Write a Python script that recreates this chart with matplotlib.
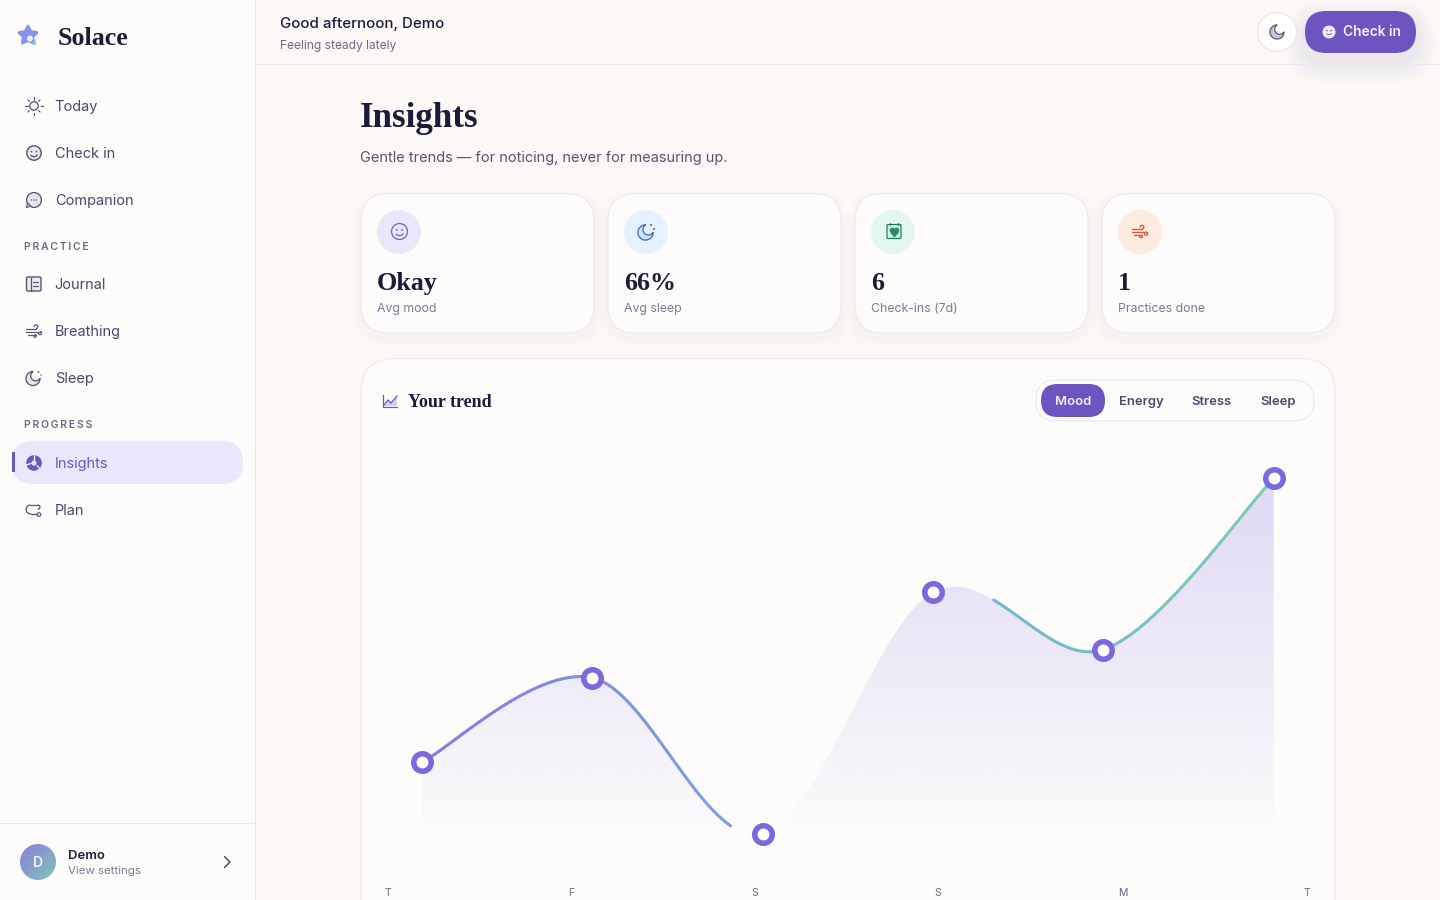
"""Solace insights screen: mood trend card with the app chrome around it."""
import numpy as np
import matplotlib

matplotlib.use("Agg")
import matplotlib.pyplot as plt
from matplotlib.bezier import BezierSegment
from matplotlib.collections import LineCollection
from matplotlib.colors import LinearSegmentedColormap, to_rgb
from matplotlib.patches import Circle, FancyBboxPatch, PathPatch, Polygon, Rectangle
from matplotlib.path import Path

# chart data
days = ["T", "F", "S", "S", "M", "T"]
mood = [0.98, 1.88, 0.22, 2.79, 2.18, 4.0]
day_index = [0, 1, 2, 3, 4, 5]

# screen text
nav_top = ["Today", "Check in", "Companion"]
nav_practice = ["Journal", "Breathing", "Sleep"]
nav_progress = ["Insights", "Plan"]
stat_values = ["Okay", "66%", "6", "1"]
stat_labels = ["Avg mood", "Avg sleep", "Check-ins (7d)", "Practices done"]
tabs = ["Mood", "Energy", "Stress", "Sleep"]

INK = "#1b1b3a"
BODY = "#4a4a68"
MUTED = "#7a7a92"
PURPLE = "#6b55c0"
MARKER = "#7c68de"
BORDER = "#e7e4f0"
CARD = "#fefcfb"
PAGE = "#fbf8f5"
SIDE = "#fdfcfa"
LILAC = "#ebe6fb"
SERIF = "Liberation Serif"

fig = plt.figure(figsize=(14.4, 9), dpi=100, facecolor=PAGE)
ui = fig.add_axes([0, 0, 1, 1])
ui.set_xlim(0, 1440)
ui.set_ylim(900, 0)
ui.axis("off")


def px(v):
    return v * 0.72


def label(x, y, s, size, color=BODY, weight="normal", family="Inter", ha="left", ax=None):
    (ax or ui).text(x, y, s, fontsize=px(size), color=color, fontweight=weight,
                    family=family, ha=ha, va="baseline", zorder=6)


def box(x0, y0, x1, y1, r, fc, ec="none", lw=1.0, alpha=None, z=2):
    p = FancyBboxPatch((x0, y0), x1 - x0, y1 - y0, boxstyle=f"round,pad=0,rounding_size={r}",
                       fc=fc, ec=ec, lw=px(lw), alpha=alpha, zorder=z)
    ui.add_patch(p)
    return p


def shadow(x0, y0, x1, y1, r, color="#6b55c0", dy=6, steps=6, spread=12, alpha=0.006):
    for i in range(steps):
        g = spread * (i + 1) / steps
        box(x0 - g, y0 - g + dy, x1 + g, y1 + g + dy, r + g, color, alpha=alpha, z=1.5)


def circle(x, y, r, fc="none", ec="none", lw=1.5, z=5):
    ui.add_patch(Circle((x, y), r, fc=fc, ec=ec, lw=px(lw), zorder=z))


def stroke(xs, ys, color, lw=1.5, z=5):
    ui.plot(xs, ys, color=color, lw=px(lw), solid_capstyle="round", zorder=z)


def smile(x, y, r, color, lw=1.4, fill="none"):
    circle(x, y, r, fc=fill, ec=color, lw=lw)
    k = r / 7
    circle(x - 2.4 * k, y - 1.4 * k, 0.8 * k, fc=color)
    circle(x + 2.4 * k, y - 1.4 * k, 0.8 * k, fc=color)
    t = np.radians(np.arange(25, 160, 15))
    stroke(x + 3.6 * k * np.cos(t), y + 0.6 * k + 3 * k * np.sin(t), color, lw)


def moon(x, y, r, color, fill="none", lw=1.4):
    # crescent: outer circle with a smaller one bitten out towards the upper right
    ri = r * 0.72
    d = r * 0.55
    phi = np.radians(-45)
    cx, cy = x + d * np.cos(phi), y + d * np.sin(phi)
    delta = np.arccos((d**2 + r**2 - ri**2) / (2 * d * r))
    beta = np.arctan2(r * np.sin(delta), r * np.cos(delta) - d)
    a = np.linspace(phi + delta, phi + 2 * np.pi - delta, 40)
    b = np.linspace(phi - beta, phi + beta - 2 * np.pi, 30)
    outer = np.c_[x + r * np.cos(a), y + r * np.sin(a)]
    inner = np.c_[cx + ri * np.cos(b), cy + ri * np.sin(b)]
    ui.add_patch(Polygon(np.vstack([outer, inner]), closed=True, fc=fill, ec=color, lw=px(lw),
                         joinstyle="round", zorder=5))


def wind(x, y, color, lw=1.4):
    stroke([x - 8, x + 2], [y - 2.5, y - 2.5], color, lw)
    stroke([x - 8, x + 6], [y + 0.5, y + 0.5], color, lw)
    stroke([x - 6, x + 1], [y + 3.5, y + 3.5], color, lw)
    t = np.radians(np.arange(-180, 100, 20))
    stroke(x + 2 + 1.8 * np.cos(t), y - 4.3 + 1.8 * np.sin(t), color, lw)
    stroke(x + 6 + 1.6 * np.cos(-t), y + 2.1 + 1.6 * np.sin(-t), color, lw)
    stroke(x + 1 + 1.4 * np.cos(-t), y + 4.9 + 1.4 * np.sin(-t), color, lw)


def gradient_fill(ax, extent, colors, clip, diagonal=False):
    n = 128
    if diagonal:
        gx, gy = np.meshgrid(np.linspace(0, 1, n), np.linspace(0, 1, n))
        t = (gx + gy) / 2
    else:
        t = np.linspace(0, 1, n)[:, None]
    cmap = LinearSegmentedColormap.from_list("g", colors)
    im = ax.imshow(t, extent=extent, cmap=cmap, vmin=0, vmax=1, aspect="auto",
                   origin="upper", interpolation="bilinear", zorder=3)
    im.set_clip_path(clip)
    return im


# sidebar and header
ui.add_patch(Rectangle((0, 0), 255, 900, fc=SIDE, ec="none", zorder=1))
stroke([254.9, 254.9], [0, 900], "#eae7f0", 1, z=2)
stroke([0, 255], [822.9, 822.9], "#eae7f0", 1, z=2)
stroke([255, 1440], [63.9, 63.9], "#e9e6ef", 1, z=2)

# logo
ang = np.radians(np.arange(-90, 270, 36))
rad = np.tile([9.5, 5.0], 5)
star = np.c_[28 + rad * np.cos(ang), 35.5 + rad * np.sin(ang)]
ui.add_patch(Polygon(star, closed=True, fc="#8593ea", ec="#8593ea", lw=2, joinstyle="round", zorder=4))
circle(30, 38.5, 3, fc="#e9f0fb")
ui.add_patch(Polygon([(31, 44), (35.5, 39.5), (36, 45)], closed=True, fc="#86bfe6", ec="none", zorder=5))
label(58, 45, "Solace", 26, INK, "bold", SERIF)

# navigation
icon_c = "#55556f"
nav_y = [111, 158, 205]
for name, y in zip(nav_top, nav_y):
    label(54.7, y, name, 14.5, BODY)
nav_y2 = [289, 336, 383]
for name, y in zip(nav_practice, nav_y2):
    label(54.7, y, name, 14.5, BODY)
label(24, 250, "\u200a\u200a".join("PRACTICE"), 10.5, "#6c6c84", "semibold")
label(24, 428, "\u200a\u200a".join("PROGRESS"), 10.5, "#6c6c84", "semibold")

# today, check in, companion icons
circle(34, 106, 4.2, ec=icon_c, lw=1.3)
for a in np.radians(np.arange(0, 360, 45)):
    stroke([34 + 6.5 * np.cos(a), 34 + 8.6 * np.cos(a)], [106 + 6.5 * np.sin(a), 106 + 8.6 * np.sin(a)], icon_c, 1.2)
smile(34, 153, 7.2, icon_c, fill="#e6e5ec")
circle(34, 200, 7.4, fc="#e6e5ec", ec=icon_c, lw=1.3)
ui.add_patch(Polygon([(26.5, 207.5), (31, 206), (27.5, 203)], closed=True, fc="#e6e5ec", ec=icon_c, lw=px(1.2), zorder=5))
for dx in (-2.6, 0, 2.6):
    circle(34 + dx, 200, 0.7, fc=icon_c)

# journal, breathing, sleep icons
box(26.5, 277, 41, 291, 1.5, "#ecebf1", icon_c, 1.4, z=5)
stroke([30.5, 30.5], [278, 290.5], icon_c, 1.3)
stroke([33, 38], [282, 282], icon_c, 1.2)
stroke([33, 38], [285.5, 285.5], icon_c, 1.2)
wind(34, 331, icon_c, 1.2)
moon(33, 378.5, 7, icon_c, "#e6e5ec", 1.3)
circle(38.5, 372, 0.9, fc=icon_c)
circle(41, 375, 0.7, fc=icon_c)

# active item
box(12, 441, 243, 484, 21.5, LILAC, z=2)
ui.add_patch(Rectangle((12, 452), 3, 20, fc=PURPLE, ec="none", zorder=3))
circle(34, 463, 7.8, fc=PURPLE)
stroke([34, 34], [455, 460], LILAC, 1.4)
stroke([26, 31], [465, 463.5], LILAC, 1.4)
stroke([37, 41], [465.5, 470], LILAC, 1.4)
circle(34, 463, 2.6, fc=LILAC)
label(54.7, 468, nav_progress[0], 14.5, PURPLE)
label(54.7, 515, nav_progress[1], 14.5, BODY)
t = np.radians(np.arange(90, 271, 20))
stroke(30.5 + 4.4 * np.cos(t), 509.5 + 4.4 * np.sin(t), icon_c, 1.3)
stroke([30.5, 38], [505.1, 505.1], icon_c, 1.3)
stroke([30.5, 36.5], [513.9, 513.9], icon_c, 1.3)
t = np.radians(np.arange(-90, 91, 30))
stroke(38 + 2 * np.cos(t), 507.1 + 2 * np.sin(t), icon_c, 1.3)
circle(39, 514.5, 1.8, ec=icon_c, lw=1.2)

# user row
avatar = Circle((38, 862), 18, transform=ui.transData, fc="none", ec="none", zorder=4)
ui.add_patch(avatar)
gradient_fill(ui, (20, 56, 880, 844), ["#8d7ddb", "#7cc6b8"], avatar, diagonal=True)
ui.set_xlim(0, 1440)
ui.set_ylim(900, 0)
label(38, 867, "D", 14, "#f4f3fb", "semibold", ha="center")
label(68, 859, "Demo", 13, INK, "semibold")
label(68, 874, "View settings", 11.5, MUTED)
ui.plot([224.5, 230, 224.5], [856.5, 862, 867.5], color=BODY, lw=px(1.5), solid_capstyle="round", zorder=5)

# header
label(280, 28, "Good afternoon, Demo", 15, INK, "medium")
label(280, 49, "Feeling steady lately", 12, "#6c6c84")
circle(1277, 32, 19.5, fc="#fefdfc", ec=BORDER, lw=1, z=3)
moon(1277, 32, 7, "#55556f", "#c9c8d6", 1.2)
shadow(1305, 11, 1416, 53, 21, dy=10, steps=8, spread=20, alpha=0.008)
box(1305, 11, 1416, 53, 21, PURPLE, z=3)
smile(1329, 32, 6, "#f1eefb", 1, fill="#f1eefb")
circle(1327, 30.6, 0.8, fc=PURPLE)
circle(1331, 30.6, 0.8, fc=PURPLE)
t = np.radians(np.arange(25, 160, 15))
stroke(1329 + 2.6 * np.cos(t), 32.5 + 2.2 * np.sin(t), PURPLE, 0.9)
label(1343, 36, "Check in", 13.8, "#f3f0fc", "semibold")

# page heading
label(360, 127, "Insights", 35, INK, "bold", SERIF)
label(360, 162, "Gentle trends \u2014 for noticing, never for measuring up.", 14.5, "#55556f")

# stat cards
card_x = [361, 608, 855, 1102]
icon_bg = [LILAC, "#e6f1fd", "#e3f6ef", "#fdeae1"]
for x, value, name, bg in zip(card_x, stat_values, stat_labels, icon_bg):
    shadow(x, 194, x + 233, 333, 28, dy=5, steps=5, spread=10, alpha=0.003)
    box(x, 193.5, x + 233, 333, 28, CARD, BORDER, 0.8, z=2)
    circle(x + 38, 232, 22, fc=bg, z=3)
    label(x + 16, 290, value, 26, INK, "bold", SERIF)
    label(x + 16, 312, name, 12.3, MUTED)
smile(399.5, 231.5, 8, "#7a62cf", 1.3)
moon(645.5, 232.5, 7.6, "#3f6db0", "#cfe2f8", 1.3)
circle(651, 225, 1, fc="#3f6db0")
circle(654, 229, 1, fc="#3f6db0")
box(887, 224.5, 901, 238.5, 1, "#d3efe4", "#1f7a5c", 1.2, z=5)
stroke([890, 890], [222.5, 225], "#1f7a5c", 1.1)
stroke([898, 898], [222.5, 225], "#1f7a5c", 1.1)
ui.plot(894, 232, marker="$\u2665$", ms=6, color="#2b8a6b", zorder=6)
wind(1140, 231.5, "#d0603c", 1.4)

# trend card, runs off the bottom of the screen
box(361, 358.5, 1335, 960, 34, CARD, BORDER, 0.9, z=2)
ui.plot([383, 383, 397], [395, 407, 407], color=PURPLE, lw=px(1.2), zorder=5)
ui.add_patch(Polygon([(384, 405), (388, 400), (391, 403), (397, 396), (397, 406), (384, 406)],
                     closed=True, fc="#d5cef3", ec="none", zorder=4))
ui.plot([384, 388, 391, 397], [405, 400, 403, 396], color=PURPLE, lw=px(1.2), zorder=5)
label(408, 407, "Your trend", 18, INK, "bold", SERIF)

box(1036, 380, 1314, 421, 20.5, CARD, BORDER, 0.9, z=3)
box(1041, 384, 1105, 417, 16.5, PURPLE, z=4)
tab_x = [1055, 1119, 1191.5, 1260.5]
for i, (name, x) in enumerate(zip(tabs, tab_x)):
    label(x, 405, name, 13, "#f3f0fc" if i == 0 else BODY, "semibold")

# day labels are spread evenly across the card, not under the points
day_x = [388, 571, 754.5, 938, 1122.5, 1307]
for d, x in zip(days, day_x):
    label(x, 896, d, 10.5, "#6c6c84", ha="center")

# chart axes: x spans the six days, y runs 0 to 4 on the mood scale
chart = fig.add_axes([421.7 / 1440, 1 - 854.5 / 900, 852 / 1440, 376 / 900])
chart.set_xlim(0, 5)
chart.set_ylim(0, 4)
chart.axis("off")
chart.patch.set_alpha(0)
chart.set_zorder(5)


def smooth_segments(xs, ys):
    """Catmull-Rom through the points, as cubic bezier control points."""
    p = np.c_[xs, ys].astype(float)
    segs = []
    for i in range(len(p) - 1):
        p0 = p[max(i - 1, 0)]
        p3 = p[min(i + 2, len(p) - 1)]
        c1 = p[i] + (p[i + 1] - p0) / 6
        c2 = p[i + 1] - (p3 - p[i]) / 6
        segs.append(np.array([p[i], c1, c2, p[i + 1]]))
    return segs


segments = smooth_segments(day_index, mood)
curve = np.vstack([BezierSegment(s)(np.linspace(0, 1, 60)) for s in segments])

# area under the curve, fading out towards the baseline
area = Path(np.vstack([[curve[0, 0], 0], curve, [curve[-1, 0], 0]]))
area_patch = PathPatch(area, fc="none", ec="none", transform=chart.transData)
chart.add_patch(area_patch)
tint = to_rgb(MARKER)
shade = np.zeros((256, 1, 4))
shade[..., :3] = tint
shade[:, 0, 3] = np.linspace(0.24, 0.0, 256)
fade = chart.imshow(shade, extent=(0, 5, 0, 4), aspect="auto", origin="upper", zorder=1)
fade.set_clip_path(area_patch)
chart.set_xlim(0, 5)
chart.set_ylim(0, 4)

# stroke runs purple to teal and is hidden around the low point
visible = (curve[:, 0] < 1.82) | (curve[:, 0] > 3.35)
stroke_map = LinearSegmentedColormap.from_list(
    "trend", ["#8a7ce0", "#7f9fde", "#73b8cb", "#7ccdb4"])
pairs = np.stack([curve[:-1], curve[1:]], axis=1)
keep = visible[:-1] & visible[1:]
line = LineCollection(pairs[keep], colors=stroke_map(pairs[keep][:, 0, 0] / 5), linewidths=px(3),
                      capstyle="round", zorder=3)
chart.add_collection(line)

chart.plot(day_index, mood, ls="none", marker="o", ms=px(17.5), mfc="white", mec=MARKER,
           mew=px(5.5), clip_on=False, snap=False, zorder=4)

fig.savefig("out.png", dpi=100, facecolor=PAGE)
plt.close(fig)
